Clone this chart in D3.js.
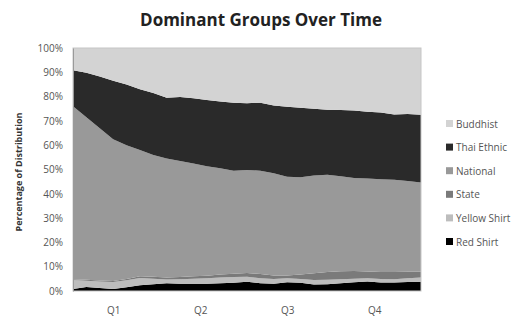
<!DOCTYPE html>
<html>
<head>
<meta charset="utf-8">
<script src="https://cdn.jsdelivr.net/npm/d3@7"></script>
<style>
  body { margin: 0; background: #fff; }
  svg { display: block; }
</style>
</head>
<body>
<svg id="chart" width="520" height="317"></svg>
<script>
// week number of each sample (every two weeks over one year)
var weeks = [0, 2, 4, 6, 8, 10, 12, 14, 16, 18, 20, 22, 24, 26, 28, 30, 32, 34, 36, 38, 40, 42, 44, 46, 48, 50, 52];

// share of each group in percent
var redShirt = [0.8, 1.6, 1.2, 0.8, 1.5, 2.4, 2.8, 3.2, 3.0, 3.0, 3.0, 3.2, 3.4, 3.8, 3.2, 3.0, 3.6, 3.4, 2.7, 2.8, 3.2, 3.6, 3.9, 3.5, 3.5, 3.7, 3.8];
var yellowShirt = [3.7, 2.6, 2.7, 2.9, 2.9, 3.0, 2.2, 1.5, 1.8, 2.0, 2.2, 2.4, 2.4, 2.1, 2.0, 1.9, 1.6, 1.5, 1.8, 1.8, 1.6, 1.4, 1.3, 1.4, 1.3, 1.5, 1.8];
var state = [0.3, 0.4, 0.4, 0.4, 0.5, 0.7, 0.9, 0.9, 1.0, 1.1, 1.1, 1.2, 1.3, 1.5, 1.8, 1.5, 1.2, 1.9, 2.8, 3.2, 3.3, 3.2, 2.8, 2.9, 3.0, 2.7, 2.3];
var national = [71.2, 66.9, 62.7, 58.4, 55.1, 51.9, 50.1, 48.9, 47.7, 46.4, 45.0, 43.7, 42.4, 42.4, 42.5, 42.1, 40.6, 40.0, 40.2, 40.0, 39.1, 38.3, 38.3, 38.2, 38.0, 37.4, 36.7];
var thaiEthnic = [14.8, 18.3, 21.3, 24.0, 25.0, 25.0, 25.5, 25.0, 26.3, 26.8, 27.3, 27.5, 28.0, 27.5, 28.0, 27.8, 28.8, 28.6, 27.5, 26.8, 27.3, 27.8, 27.5, 27.5, 26.8, 27.5, 27.9];
var buddhist = [9.2, 10.2, 11.7, 13.5, 15.0, 17.0, 18.5, 20.5, 20.2, 20.7, 21.4, 22.0, 22.5, 22.7, 22.5, 23.7, 24.2, 24.6, 25.0, 25.4, 25.5, 25.7, 26.2, 26.5, 27.4, 27.2, 27.5];

// bottom to top stacking order
var groups = ["Red Shirt", "Yellow Shirt", "State", "National", "Thai Ethnic", "Buddhist"];
var groupColors = ["#000000", "#bdbdbd", "#7a7a7a", "#999999", "#2a2a2a", "#d3d3d3"];

// quarter labels and where they sit on the week axis
var quarterTicks = [6, 19, 32, 45];
var quarterLabels = ["Q1", "Q2", "Q3", "Q4"];
var yTicks = [0, 10, 20, 30, 40, 50, 60, 70, 80, 90, 100];

var margin = {top: 48, right: 99, bottom: 26, left: 73};
var width = 520 - margin.left - margin.right;
var height = 317 - margin.top - margin.bottom;

var svg = d3.select("#chart");

// build rows for the stack
var series = [redShirt, yellowShirt, state, national, thaiEthnic, buddhist];
var rows = [];
for (var i = 0; i < weeks.length; i++) {
  var row = {week: weeks[i]};
  for (var j = 0; j < groups.length; j++) {
    row[groups[j]] = series[j][i];
  }
  rows.push(row);
}
var stacked = d3.stack().keys(groups)(rows);

var x = d3.scaleLinear().domain([0, 52]).range([0, width]);
var y = d3.scaleLinear().domain([0, 100]).range([height, 0]);

var g = svg.append("g")
    .attr("transform", "translate(" + margin.left + "," + margin.top + ")");

var area = d3.area()
    .x(function(d) { return x(d.data.week); })
    .y0(function(d) { return y(d[0]); })
    .y1(function(d) { return y(d[1]); });

g.selectAll("path.layer")
    .data(stacked)
    .enter().append("path")
    .attr("class", "layer")
    .attr("fill", function(d, i) { return groupColors[i]; })
    .attr("d", area);

// plot border
g.append("rect")
    .attr("x", 0)
    .attr("y", 0)
    .attr("width", width)
    .attr("height", height)
    .attr("fill", "none")
    .attr("stroke", "#c6c6c6")
    .attr("stroke-width", 1);

// Y axis
var yAxis = d3.axisLeft(y).tickValues(yTicks).tickSize(0).tickPadding(10)
    .tickFormat(function(d) { return d + "%"; });
var yg = g.append("g").call(yAxis);
yg.select(".domain").attr("stroke", "#9a9a9a");
yg.selectAll("text")
    .style("font-family", "Open Sans, sans-serif")
    .style("font-size", "10px")
    .attr("fill", "#555");

// X axis
var xAxis = d3.axisBottom(x).tickValues(quarterTicks).tickSize(0).tickPadding(16)
    .tickFormat(function(d, i) { return quarterLabels[i]; });
var xg = g.append("g")
    .attr("transform", "translate(0," + height + ")")
    .call(xAxis);
xg.select(".domain").remove();
xg.selectAll("text")
    .style("font-family", "Open Sans, sans-serif")
    .style("font-size", "10px")
    .attr("fill", "#555");

// title
svg.append("text")
    .attr("x", 261)
    .attr("y", 26)
    .style("text-anchor", "middle")
    .style("font-family", "Open Sans, sans-serif")
    .style("font-weight", "bold")
    .style("font-size", "17px")
    .attr("fill", "#222")
    .text("Dominant Groups Over Time");

// text label for the y axis
svg.append("text")
    .attr("transform", "rotate(-90)")
    .attr("x", -172)
    .attr("y", 22)
    .style("text-anchor", "middle")
    .style("font-family", "Open Sans, sans-serif")
    .style("font-weight", "bold")
    .style("font-size", "9px")
    .attr("fill", "#333")
    .text("Percentage of Distribution");

// legend, top entry is the top layer
var legendNames = groups.slice().reverse();
var legendColors = groupColors.slice().reverse();
var legend = svg.append("g")
    .attr("transform", "translate(446,124)");
var items = legend.selectAll("g")
    .data(legendNames)
    .enter().append("g")
    .attr("transform", function(d, i) { return "translate(0," + (i * 23.6) + ")"; });
items.append("rect")
    .attr("x", 0)
    .attr("y", -4)
    .attr("width", 7)
    .attr("height", 7)
    .attr("fill", function(d, i) { return legendColors[i]; });
items.append("text")
    .attr("x", 10)
    .attr("y", 3.5)
    .style("font-family", "Open Sans, sans-serif")
    .style("font-size", "10px")
    .attr("fill", "#555")
    .text(function(d) { return d; });
</script>
</body>
</html>
